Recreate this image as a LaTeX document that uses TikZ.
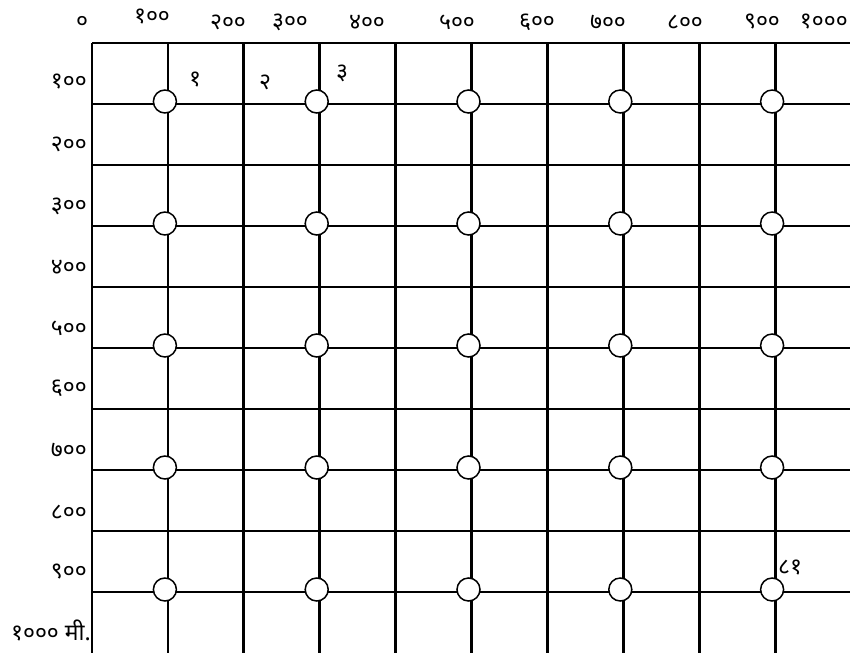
\documentclass[tikz,border=0pt]{standalone}
\usepackage{fontspec}
\newfontfamily\devfont[Script=Devanagari]{Noto Sans}
\begin{document}
\begin{tikzpicture}[x=1pt,y=-1pt,
  gridline/.style={line width=2.8pt},
  minorline/.style={line width=2.2pt},
  well/.style={circle, draw, line width=1.5pt, fill=white, minimum size=23pt, inner sep=0pt},
  lbl/.style={font=\devfont\fontsize{23}{23}\selectfont, inner sep=0pt}]
\useasboundingbox (0,0) rectangle (850,653);
% vertical lines
\foreach \i in {0,...,9} {
  \draw[gridline] ({92+75.9*\i},43) -- ({92+75.9*\i},653);
}
% horizontal lines
\draw[gridline] (92,43) -- (850,43);
\foreach \j in {2,4,6,8} {
  \draw[minorline] (92,{43+61*\j}) -- (850,{43+61*\j});
}
\foreach \j in {1,3,5,7,9} {
  \draw[gridline] (92,{43+61*\j}) -- (850,{43+61*\j});
}
% wells
\foreach \i in {1,3,5,7,9} {
  \foreach \j in {1,3,5,7,9} {
    \node[well] (w\i-\j) at ({92+75.9*\i-3},{43+61*\j-2.5}) {};
  }
}
% top scale
\node[lbl] (t0) at (82,22) {०};
\node[lbl] (t1) at (152,17) {१००};
\node[lbl] (t2) at (228,22) {२००};
\node[lbl] (t3) at (290,22) {३००};
\node[lbl] (t4) at (367,22) {४००};
\node[lbl] (t5) at (457,22) {५००};
\node[lbl] (t6) at (537,22) {६००};
\node[lbl] (t7) at (608,22) {७००};
\node[lbl] (t8) at (685,22) {८००};
\node[lbl] (t9) at (762,22) {९००};
\node[lbl, anchor=east] (t10) at (848,22) {१०००};
% left scale
\node[lbl, anchor=east] (l1) at (87,82) {१००};
\node[lbl, anchor=east] (l2) at (87,144) {२००};
\node[lbl, anchor=east] (l3) at (87,206) {३००};
\node[lbl, anchor=east] (l4) at (87,267) {४००};
\node[lbl, anchor=east] (l5) at (87,328) {५००};
\node[lbl, anchor=east] (l6) at (87,388) {६००};
\node[lbl, anchor=east] (l7) at (87,450) {७००};
\node[lbl, anchor=east] (l8) at (87,512) {८००};
\node[lbl, anchor=east] (l9) at (87,572) {९००};
\node[lbl, anchor=east] (l10) at (91,630) {१००० मी.};
% cell numbers
\node[lbl] (n1) at (195,80) {१};
\node[lbl] (n2) at (265,82) {२};
\node[lbl] (n3) at (342,73) {३};
\node[lbl] (n81) at (790,568) {८१};
\end{tikzpicture}
\end{document}
